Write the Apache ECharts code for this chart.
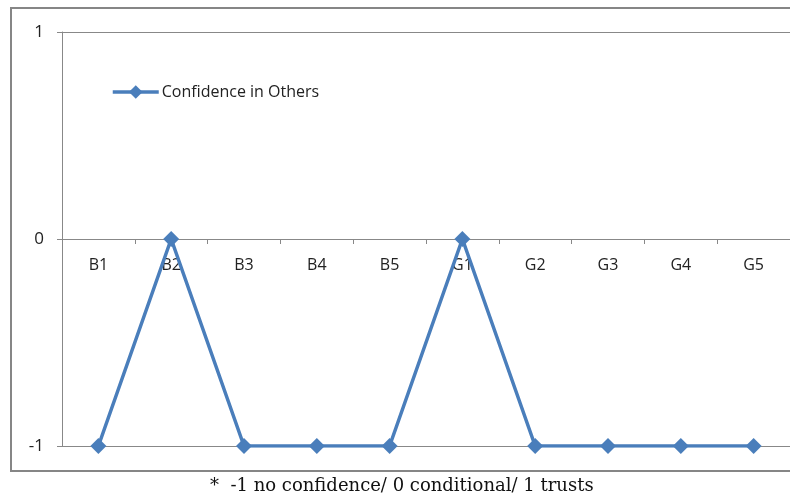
<!DOCTYPE html>
<html>
<head>
<meta charset="utf-8">
<script src="https://cdn.jsdelivr.net/npm/echarts@6/dist/echarts.min.js"></script>
<style>
  html, body { margin: 0; padding: 0; background: #fff; }
  #chart { width: 790px; height: 500px; }
</style>
</head>
<body>
<div id="chart"></div>
<script>
// Respondents and their confidence scores
const categories = ['B1', 'B2', 'B3', 'B4', 'B5', 'G1', 'G2', 'G3', 'G4', 'G5'];
const confidence = [-1, 0, -1, -1, -1, 0, -1, -1, -1, -1];
const seriesName = 'Confidence in Others';
const footnote = '*  -1 no confidence/ 0 conditional/ 1 trusts';

const axisGray = '#888888';
const lineBlue = '#4a7ebb';
const labelFont = '"Open Sans", "Liberation Sans", sans-serif';

const gridTop = 32;
const gridHeight = 414;

const chart = echarts.init(document.getElementById('chart'), null, { renderer: 'canvas' });

chart.setOption({
  animation: false,
  backgroundColor: '#ffffff',
  grid: { left: 62, top: gridTop, width: 730, height: gridHeight, containLabel: false },
  legend: {
    left: 106,
    top: 79,
    itemWidth: 46,
    itemHeight: 17,
    itemGap: 10,
    lineStyle: { width: 3.5 },
    textStyle: { fontFamily: labelFont, fontSize: 16, color: '#222', padding: [0, 0, 0, -2] },
    data: [seriesName]
  },
  xAxis: {
    type: 'category',
    data: categories,
    boundaryGap: true,
    // the category axis sits on the zero line, halfway up the plot
    offset: -gridHeight / 2,
    axisLine: { onZero: false, lineStyle: { color: axisGray, width: 1 } },
    axisTick: { show: true, length: 5, lineStyle: { color: axisGray } },
    axisLabel: { margin: 18, fontFamily: labelFont, fontSize: 16, color: '#222' },
    splitLine: { show: false }
  },
  yAxis: {
    type: 'value',
    min: -1,
    max: 1,
    interval: 1,
    axisLine: { show: true, lineStyle: { color: axisGray, width: 1 } },
    axisTick: { show: true, length: 5, lineStyle: { color: axisGray } },
    axisLabel: { margin: 18, fontFamily: labelFont, fontSize: 17, color: '#222' },
    splitLine: { show: true, lineStyle: { color: axisGray, width: 1 } }
  },
  series: [{
    name: seriesName,
    type: 'line',
    data: confidence,
    symbol: 'diamond',
    symbolSize: 16,
    itemStyle: { color: lineBlue },
    lineStyle: { color: lineBlue, width: 3.5 },
    z: 5
  }],
  graphic: [
    {
      type: 'rect',
      shape: { x: 11, y: 8, width: 800, height: 463 },
      style: { fill: 'none', stroke: '#868686', lineWidth: 2 },
      silent: true,
      z: -1
    },
    {
      type: 'text',
      left: 210,
      top: 477,
      style: {
        text: footnote,
        font: '18px "DejaVu Serif", "Liberation Serif", serif',
        fill: '#111'
      }
    }
  ]
});
</script>
</body>
</html>
